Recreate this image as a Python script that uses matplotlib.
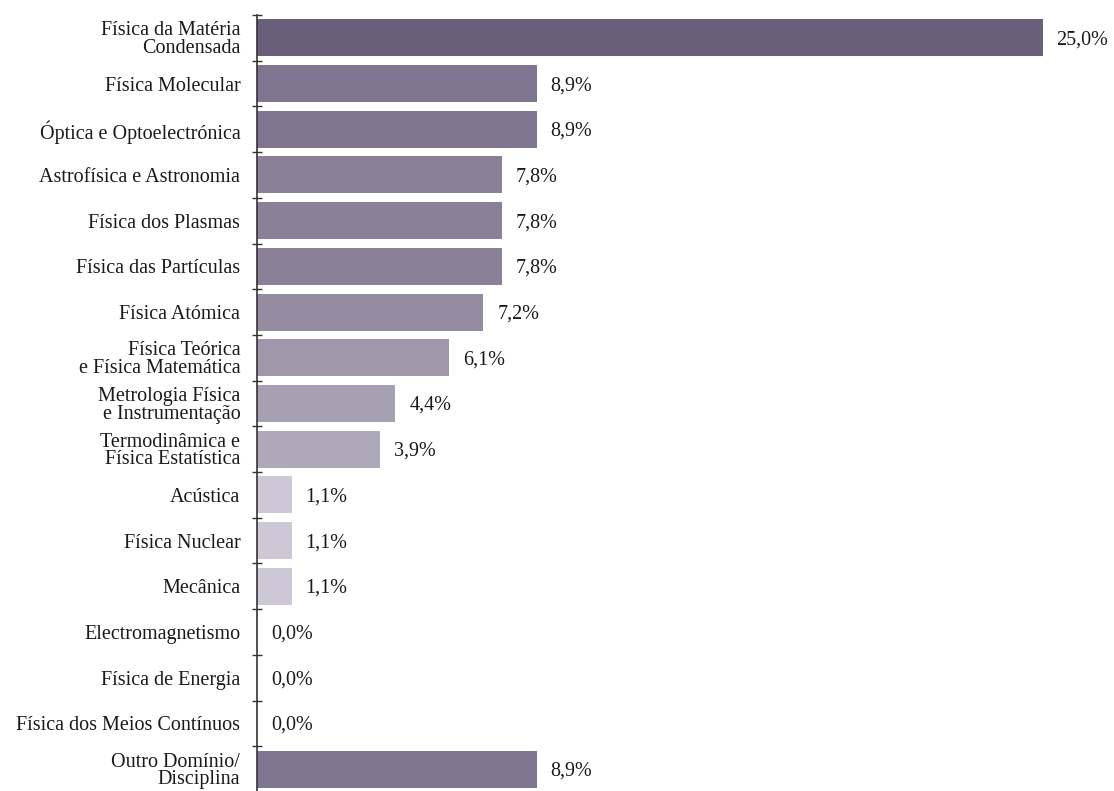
import matplotlib
matplotlib.use("Agg")
import matplotlib.pyplot as plt

categories = [
    "Física da Matéria\nCondensada",
    "Física Molecular",
    "Óptica e Optoelectrónica",
    "Astrofísica e Astronomia",
    "Física dos Plasmas",
    "Física das Partículas",
    "Física Atómica",
    "Física Teórica\ne Física Matemática",
    "Metrologia Física\ne Instrumentação",
    "Termodinâmica e\nFísica Estatística",
    "Acústica",
    "Física Nuclear",
    "Mecânica",
    "Electromagnetismo",
    "Física de Energia",
    "Física dos Meios Contínuos",
    "Outro Domínio/\nDisciplina",
]
values = [25.0, 8.9, 8.9, 7.8, 7.8, 7.8, 7.2, 6.1, 4.4, 3.9, 1.1, 1.1, 1.1, 0.0, 0.0, 0.0, 8.9]
colors = [
    "#6a5f7b", "#7f7590", "#7f7590", "#8a8199", "#8a8199", "#8a8199",
    "#958ca2", "#9e98aa", "#a6a1b2", "#aea9ba", "#ccc8d5", "#ccc8d5",
    "#ccc8d5", "#ccc8d5", "#ccc8d5", "#ccc8d5", "#7f7590",
]

plt.rcParams["font.family"] = ["Liberation Serif", "DejaVu Serif"]

W, H = 1114, 791
fig = plt.figure(figsize=(W / 100, H / 100), dpi=100)
left_px, top_px, right_px, bottom_px = 257, 15, 1074, 792
ax = fig.add_axes([left_px / W, 1 - bottom_px / H,
                   (right_px - left_px) / W, (bottom_px - top_px) / H])

n = len(categories)
pos = list(range(n))
ax.barh(pos, values, height=0.81, color=colors, edgecolor="none")
ax.set_ylim(n - 0.5, -0.5)
ax.set_xlim(0, 26)

# value labels to the right of each bar
for y, v in zip(pos, values):
    ax.annotate(f"{v:.1f}%".replace(".", ","), xy=(v, y), xytext=(14, -2),
                textcoords="offset pixels", va="center", ha="left",
                fontsize=14.5, color="#1a1a1a", annotation_clip=False)

ax.set_yticks(pos)
ax.set_yticklabels(categories, fontsize=14.5, linespacing=0.9, color="#1a1a1a")
ax.tick_params(axis="y", which="major", length=0, pad=12)
ax.set_yticks([p - 0.5 for p in pos], minor=True)
ax.tick_params(axis="y", which="minor", direction="inout", length=7, width=1,
               color="#333333")

ax.set_xticks([])
for side in ("top", "right", "bottom"):
    ax.spines[side].set_visible(False)
ax.spines["left"].set_color("#333333")
ax.spines["left"].set_linewidth(1.2)

fig.savefig("out.png", dpi=100)
